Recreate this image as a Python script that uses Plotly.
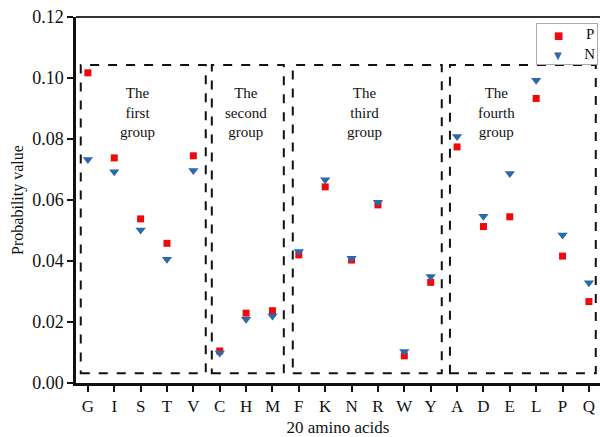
import plotly.graph_objects as go

amino = ["G", "I", "S", "T", "V", "C", "H", "M", "F", "K", "N", "R", "W", "Y",
         "A", "D", "E", "L", "P", "Q"]
p_vals = [0.1017, 0.0738, 0.0538, 0.0458, 0.0745, 0.0105, 0.0229, 0.0237, 0.0420, 0.0643,
          0.0403, 0.0584, 0.0089, 0.0330, 0.0774, 0.0513, 0.0545, 0.0933, 0.0416, 0.0267]
n_vals = [0.0733, 0.0693, 0.0502, 0.0406, 0.0697, 0.0098, 0.0209, 0.0220, 0.0431, 0.0666,
          0.0409, 0.0593, 0.0103, 0.0349, 0.0808, 0.0547, 0.0687, 0.0993, 0.0485, 0.0329]
yticks = [0.00, 0.02, 0.04, 0.06, 0.08, 0.10, 0.12]
groups = ["The<br>first<br>group", "The<br>second<br>group", "The<br>third<br>group", "The<br>fourth<br>group"]
group_spans = [(-0.27, 4.47), (4.70, 7.43), (7.77, 13.42), (13.73, 19.26)]
label_pos = [1.9, 6.0, 10.5, 15.5]
series_names = ["P", "N"]
series_colors = ["#ee0a0a", "#2e67ab"]
series_symbols = ["square", "triangle-down"]
legend_glyphs = ["■", "▼"]

FONT = "Liberation Serif"

fig = go.Figure()
for vals, name, col, sym, size in zip([p_vals, n_vals], series_names, series_colors,
                                      series_symbols, [7, 9]):
    fig.add_trace(go.Scatter(x=amino, y=vals, mode="markers", name=name, showlegend=False,
                             marker=dict(symbol=sym, size=size, color=col)))

for (x0, x1), lx, label in zip(group_spans, label_pos, groups):
    fig.add_shape(type="rect", xref="x", yref="y", x0=x0, x1=x1, y0=0.0032, y1=0.1043,
                  line=dict(color="#111111", width=2, dash="dash"))
    fig.add_annotation(x=lx, y=0.0985, xref="x", yref="y", text=label,
                       showarrow=False, yanchor="top",
                       font=dict(family=FONT, size=15, color="#111111"))

# legend built from text (compact box like the original)
legend_text = "<br>".join(
    f"&nbsp;&nbsp;&nbsp;&nbsp;<span style='color:{c};font-family:DejaVu Sans;font-size:10px'>{g}</span>"
    f"&nbsp;&nbsp;&nbsp;&nbsp;&nbsp;&nbsp;{n}"
    for g, c, n in zip(legend_glyphs, series_colors, series_names))
fig.add_annotation(x=0.997, y=0.983, xref="paper", yref="paper", xanchor="right", yanchor="top",
                   text=legend_text, showarrow=False, align="left",
                   bordercolor="#aaaaaa", borderwidth=1, borderpad=2, bgcolor="white",
                   font=dict(family=FONT, size=15, color="#111111"))

# top frame line
fig.add_shape(type="line", xref="paper", yref="paper", x0=0, x1=1, y0=1, y1=1,
              line=dict(color="#333333", width=2))

fig.update_layout(
    width=600, height=437,
    margin=dict(l=76, r=0, t=17, b=54),
    paper_bgcolor="white", plot_bgcolor="white",
    font=dict(family=FONT, size=15, color="#111111"),
    showlegend=False,
    xaxis=dict(type="category", categoryorder="array", categoryarray=amino,
               range=[-0.45, 19.42], showgrid=False, zeroline=False,
               showline=True, linecolor="#111111", linewidth=2.5,
               ticks="outside", ticklen=6, tickwidth=2, tickcolor="#111111",
               tickfont=dict(family=FONT, size=17),
               title=dict(text="20 amino acids", font=dict(family=FONT, size=17), standoff=9)),
    yaxis=dict(range=[0, 0.12], tickvals=yticks, tickformat=".2f",
               showgrid=False, zeroline=False,
               showline=True, linecolor="#111111", linewidth=2.5,
               ticks="outside", ticklen=6, tickwidth=2, tickcolor="#111111",
               tickfont=dict(family=FONT, size=18),
               title=dict(text="Probability value", font=dict(family=FONT, size=16), standoff=5)),
)

fig.write_html("out.html")
